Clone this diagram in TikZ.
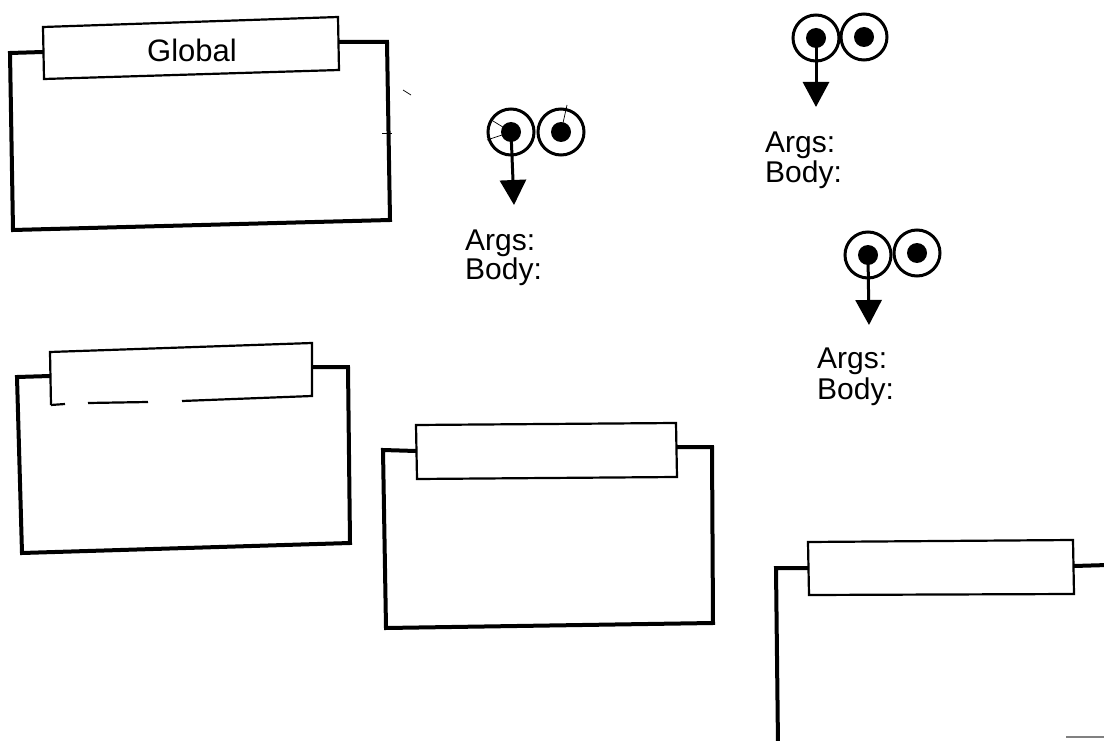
\documentclass[tikz,border=0pt]{standalone}
\usepackage{fontspec}
\setmainfont{Liberation Sans}
\usetikzlibrary{arrows.meta}
\begin{document}
\begin{tikzpicture}[x=1pt,y=-1pt,
  frame/.style={line width=4pt, line join=miter},
  tab/.style={line width=2.2pt, line join=miter},
  lbl/.style={font=\fontsize{30}{30}\selectfont, inner sep=0pt, anchor=base west},
  title/.style={font=\fontsize{31}{31}\selectfont, inner sep=0pt, anchor=base},
  eye/.style={circle, draw, line width=3pt, minimum size=46pt, inner sep=0pt},
  pupil/.style={circle, fill, minimum size=20pt, inner sep=0pt},
  ptr/.style={line width=3pt, -{Triangle[width=26pt,length=25pt]}},
  scribble/.style={line width=0.7pt},
]
\useasboundingbox (0,0) rectangle (1104,741);

% ---- Global frame
\draw[frame] (43,52) -- (10,53) -- (13,230) -- (390,220) -- (387,42) -- (338,42);
\filldraw[tab, fill=white] (43,27) -- (338,17) -- (339,70) -- (44,79) -- cycle;
\node[title] (global) at (192,62) {Global};
\draw[scribble] (403,90) -- (411,95);
\draw[scribble] (382,133) -- (392,133);

% ---- second frame (tab edge partly faded)
\draw[frame] (50,376) -- (17,377) -- (22,553) -- (350,543) -- (348,367) -- (312,367);
\fill[white] (50,352) -- (312,343) -- (312,396) -- (51,405) -- cycle;
\draw[tab] (51,405) -- (50,352) -- (312,343) -- (312,396) -- (182,401);
\draw[tab] (148,402) -- (88,403);
\draw[tab] (65,404) -- (51,405);

% ---- third frame
\draw[frame] (416,451) -- (383,450) -- (386,628) -- (713,623) -- (712,447) -- (676,447);
\filldraw[tab, fill=white] (416,425) -- (676,423) -- (677,477) -- (417,479) -- cycle;

% ---- fourth frame (runs off the page)
\draw[frame] (808,568) -- (776,568) -- (778,745);
\draw[frame] (1074,566) -- (1108,565);
\filldraw[tab, fill=white] (808,542) -- (1073,540) -- (1074,594) -- (809,595) -- cycle;
\draw[gray, line width=2pt] (1066,737) -- (1104,737);

% ---- procedure object 1
\node[eye] (e1a) at (511,132) {};
\node[eye] (e1b) at (561,132) {};
\node[pupil] (p1a) at (e1a.center) {};
\node[pupil] (p1b) at (e1b.center) {};
\coordinate (t1) at (514,205);
\draw[ptr] (e1a.center) -- (t1);
\draw[scribble] (p1a.center) -- (493,121);
\draw[scribble] (p1a.center) -- (487,140);
\draw[scribble] (p1b.center) -- (567,105);
\node[lbl] (args1) at (465,251) {Args:};
\node[lbl] (body1) at (465,279) {Body:};

% ---- procedure object 2
\node[eye] (e2a) at (816,38) {};
\node[eye] (e2b) at (864,37) {};
\node[pupil] (p2a) at (e2a.center) {};
\node[pupil] (p2b) at (e2b.center) {};
\coordinate (t2) at (816,107);
\draw[ptr] (e2a.center) -- (t2);
\node[lbl] (args2) at (765,153) {Args:};
\node[lbl] (body2) at (765,183) {Body:};

% ---- procedure object 3
\node[eye] (e3a) at (868,255) {};
\node[eye] (e3b) at (917,253) {};
\node[pupil] (p3a) at (e3a.center) {};
\node[pupil] (p3b) at (e3b.center) {};
\coordinate (t3) at (869,325);
\draw[ptr] (e3a.center) -- (t3);
\node[lbl] (args3) at (817,368) {Args:};
\node[lbl] (body3) at (817,399) {Body:};
\end{tikzpicture}
\end{document}
